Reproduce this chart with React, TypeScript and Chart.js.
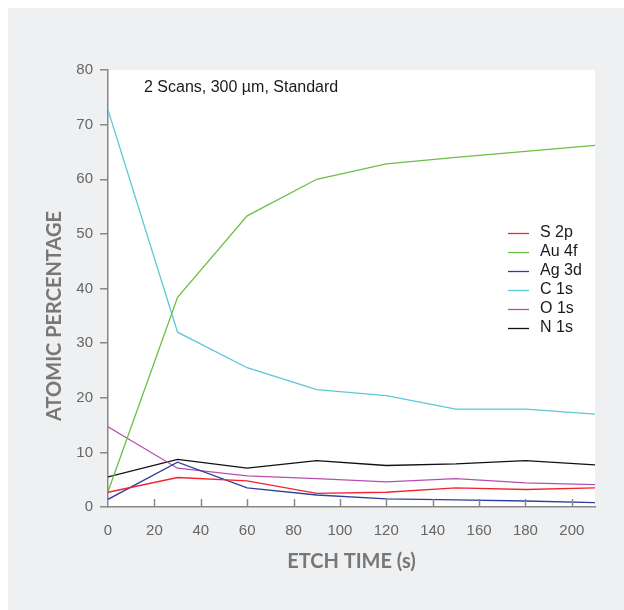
import React, { useEffect, useRef } from "react";
import { Chart, registerables } from "chart.js";

Chart.register(...registerables);

const etchTime = [0, 30, 60, 90, 120, 150, 180, 210];
const s2p = [2.7, 5.4, 4.8, 2.5, 2.7, 3.5, 3.2, 3.5];
const au4f = [2.8, 38.4, 53.3, 60.0, 62.8, 64.0, 65.1, 66.2];
const ag3d = [1.4, 8.2, 3.5, 2.2, 1.5, 1.3, 1.1, 0.8];
const c1s = [72.7, 32.0, 25.5, 21.5, 20.4, 17.9, 17.9, 17.0];
const o1s = [14.7, 7.1, 5.7, 5.2, 4.6, 5.2, 4.4, 4.1];
const n1s = [5.5, 8.7, 7.1, 8.5, 7.6, 7.9, 8.5, 7.7];

const seriesNames = ["S 2p", "Au 4f", "Ag 3d", "C 1s", "O 1s", "N 1s"];
const seriesColors = ["#f5222d", "#6cbf45", "#2d3f9e", "#5cc8d6", "#b84fb0", "#111111"];
const seriesValues = [s2p, au4f, ag3d, c1s, o1s, n1s];

const xTicks = [0, 20, 40, 60, 80, 100, 120, 140, 160, 180, 200];
const yTitle = "ATOMIC PERCENTAGE";
const xTitle = "ETCH TIME (s)";
const note = "2 Scans, 300 µm, Standard";

const TICK_FONT = "'Liberation Sans', Arial, sans-serif";
const TITLE_FONT = "Lato, 'DejaVu Sans', sans-serif";

const decorPlugin = {
  id: "decor",
  beforeDraw(chart: any) {
    const { ctx, chartArea, width, height } = chart;
    ctx.save();
    ctx.fillStyle = "#ffffff";
    ctx.fillRect(0, 0, width, height);
    ctx.fillStyle = "#eff0f2";
    ctx.fillRect(8, 8, width - 8, height - 8);
    ctx.fillStyle = "#ffffff";
    ctx.fillRect(chartArea.left, chartArea.top, chartArea.right - chartArea.left, chartArea.bottom - chartArea.top);
    ctx.restore();
  },
  afterDraw(chart: any) {
    const { ctx, chartArea } = chart;
    const xs = chart.scales.x;
    ctx.save();
    // inward x ticks
    ctx.strokeStyle = "#888888";
    ctx.lineWidth = 1.5;
    xTicks.forEach((v) => {
      if (v === 0) return;
      const px = Math.round(xs.getPixelForValue(v)) + 0.5;
      ctx.beginPath();
      ctx.moveTo(px, chartArea.bottom);
      ctx.lineTo(px, chartArea.bottom - 8);
      ctx.stroke();
    });
    // annotation
    ctx.fillStyle = "#1a1a1a";
    ctx.font = "16px " + TICK_FONT;
    ctx.textAlign = "left";
    ctx.textBaseline = "middle";
    ctx.fillText(note, chartArea.left + 36, chartArea.top + 18);
    // legend
    const lx = chartArea.left + 400;
    const ly = chartArea.top + 163;
    chart.data.datasets.forEach((ds: any, i: number) => {
      const y = ly + i * 19;
      ctx.strokeStyle = ds.borderColor;
      ctx.lineWidth = 1.3;
      ctx.beginPath();
      ctx.moveTo(lx, y + 0.5);
      ctx.lineTo(lx + 21, y + 0.5);
      ctx.stroke();
      ctx.fillStyle = "#1a1a1a";
      ctx.fillText(ds.label, lx + 32, y);
    });
    // axis titles
    ctx.fillStyle = "#777777";
    ctx.font = "bold 20px " + TITLE_FONT;
    ctx.textAlign = "center";
    ctx.fillText(xTitle, (chartArea.left + chartArea.right) / 2, chartArea.bottom + 55);
    ctx.translate(55, chartArea.top + 246);
    ctx.rotate(-Math.PI / 2);
    ctx.fillText(yTitle, 0, 0);
    ctx.restore();
  },
};

export default function App() {
  const ref = useRef<HTMLCanvasElement | null>(null);
  useEffect(() => {
    if (!ref.current) return;
    const chart = new Chart(ref.current, {
      type: "line",
      data: {
        datasets: seriesNames.map((name, i) => ({
          label: name,
          data: etchTime.map((t, j) => ({ x: t, y: seriesValues[i][j] })),
          borderColor: seriesColors[i],
          backgroundColor: seriesColors[i],
          borderWidth: 1.3,
          pointRadius: 0,
          tension: 0,
          fill: false,
        })),
      },
      options: {
        animation: false,
        responsive: false,
        devicePixelRatio: 1,
        layout: { padding: { left: 0, top: 70, right: 29, bottom: 0 } },
        plugins: { legend: { display: false }, tooltip: { enabled: false } },
        scales: {
          x: {
            type: "linear",
            min: 0,
            max: 210,
            afterFit: (s: any) => { s.height = 103; },
            afterBuildTicks: (s: any) => { s.ticks = xTicks.map((v) => ({ value: v })); },
            ticks: { stepSize: 20, includeBounds: false, color: "#666666", padding: 15, font: { size: 15, family: TICK_FONT }, maxRotation: 0 },
            grid: { display: true, drawOnChartArea: false, drawTicks: false },
            border: { display: true, color: "#888888", width: 1.5 },
          },
          y: {
            type: "linear",
            min: 0,
            max: 80,
            afterFit: (s: any) => { s.width = 108; },
            ticks: { stepSize: 10, color: "#666666", padding: 7, font: { size: 15, family: TICK_FONT } },
            grid: { display: true, drawOnChartArea: false, drawTicks: true, tickLength: 8, color: "#888888", lineWidth: 1.5 },
            border: { display: true, color: "#888888", width: 1.5 },
          },
        },
      },
      plugins: [decorPlugin],
    });
    return () => chart.destroy();
  }, []);
  return (
    <div style={{ position: "absolute", left: 0, top: 0, width: 624, height: 610, overflow: "hidden" }}>
      <canvas ref={ref} width={624} height={610} style={{ display: "block", width: 624, height: 610 }} />
    </div>
  );
}
